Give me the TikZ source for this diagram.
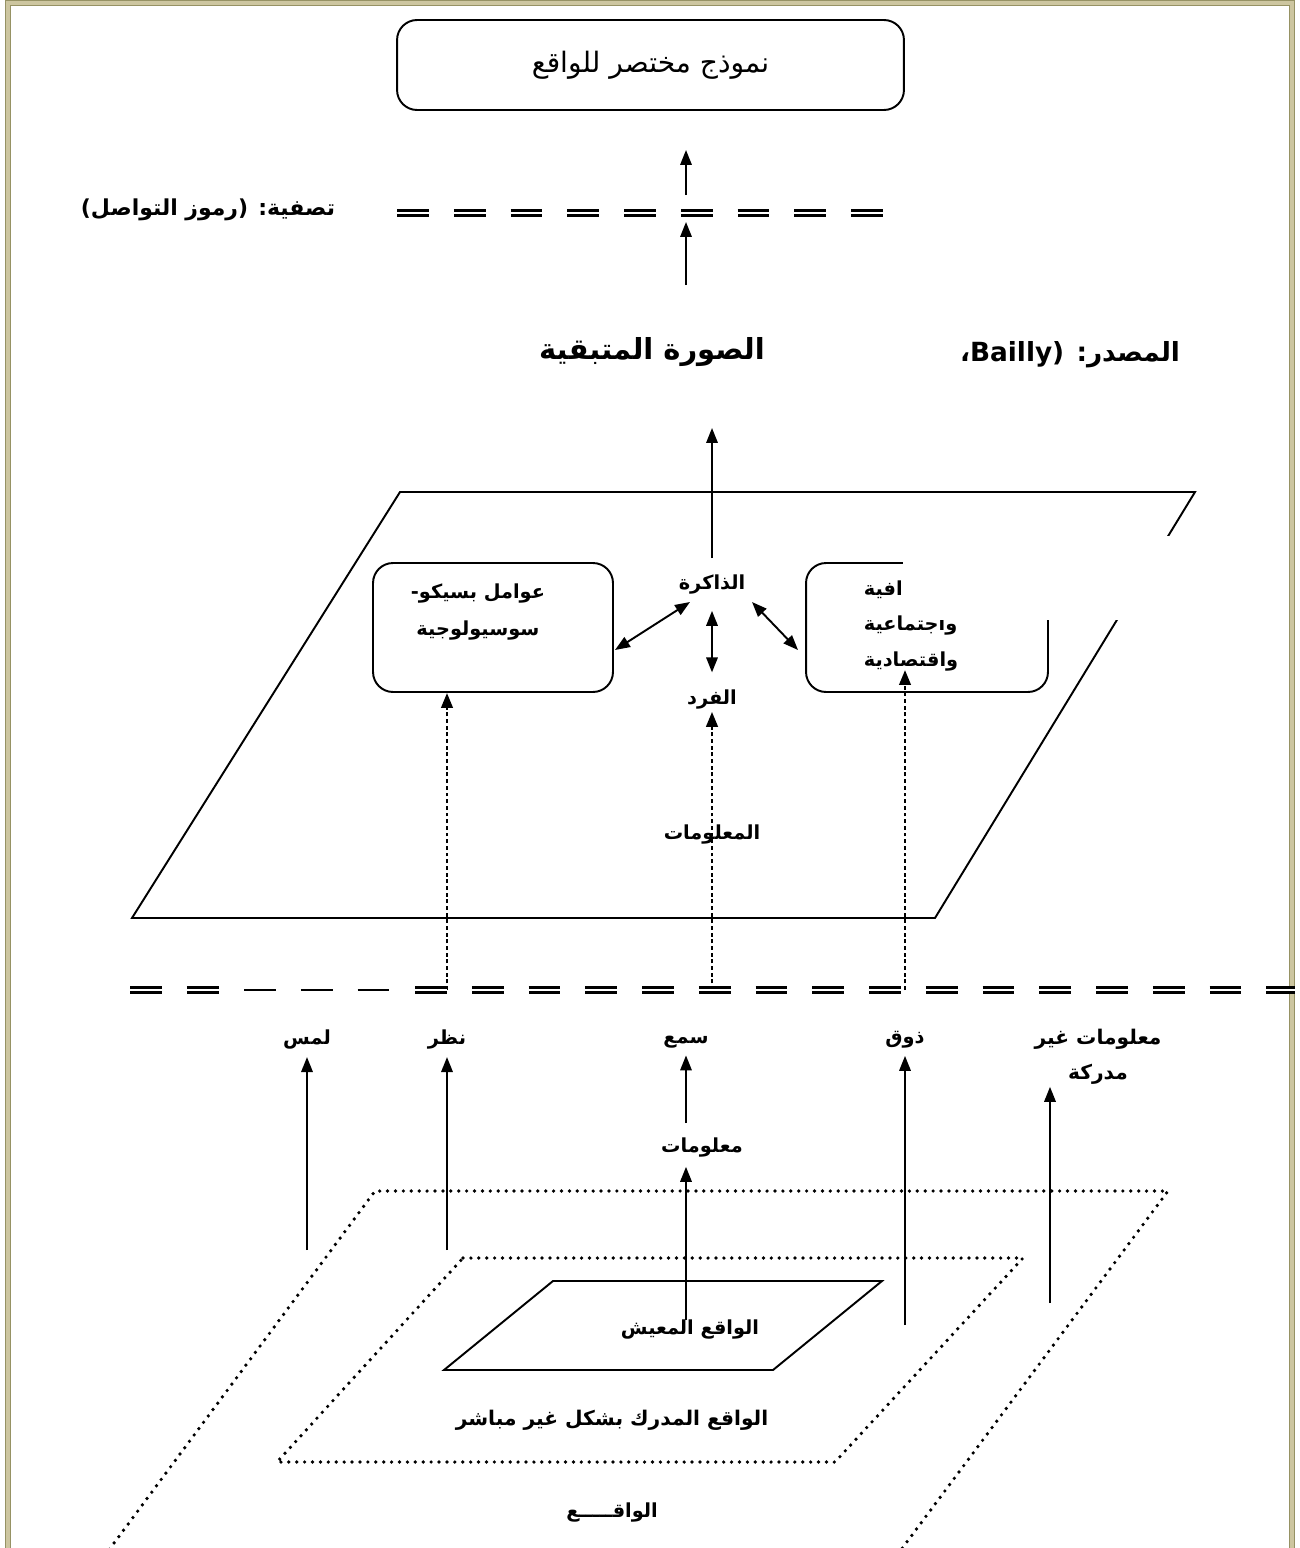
\documentclass[tikz,border=0pt]{standalone}
\usepackage{fontspec}
\newfontfamily\arabicfont[Script=Arabic]{DejaVu Sans}
\TeXXeTstate=1
\usetikzlibrary{arrows.meta,positioning}
\definecolor{frameout}{RGB}{150,146,100}
\definecolor{framein}{RGB}{205,198,160}
\newcommand{\ar}[1]{\beginR #1\endR}

\begin{document}
\begin{tikzpicture}[x=0.02cm,y=-0.02cm,
  lbl/.style={font=\arabicfont\bfseries\fontsize{11}{21}\selectfont,inner sep=1pt,align=center},
  biglbl/.style={font=\arabicfont\bfseries\fontsize{16.5}{18}\selectfont,inner sep=1pt},
  rbox/.style={draw,rounded corners=0.4cm,line width=1.1pt},
  arr/.style={-{Triangle[length=8.5pt,width=6.5pt]},line width=1.1pt},
  dblarr/.style={{Triangle[length=8.5pt,width=6.5pt]}-{Triangle[length=8.5pt,width=6.5pt]},line width=1.1pt},
  dotarr/.style={-{Triangle[length=8.5pt,width=6.5pt]},line width=1.5pt,dash pattern=on 2.2pt off 1.6pt},
  sepline/.style={double,double distance=1.6pt,line width=1.35pt,dash pattern=on 18.1pt off 14.2pt},
  halfsep/.style={line width=1.6pt,dash pattern=on 18.1pt off 14.2pt},
  dots/.style={line width=2.1pt,line cap=round,dash pattern=on 0pt off 4.5pt},
  plane/.style={line width=1.1pt}]
\useasboundingbox (0,0) rectangle (1300,1548);
% page frame
\draw[frameout,double=framein,double distance=2pt,line width=0.5pt] (8,1560) -- (8,3) -- (1292,3) -- (1292,1560);

% top: short model
\node[rbox,minimum width=10.14cm,minimum height=1.8cm,font=\arabicfont\fontsize{16}{18}\selectfont] (model) at (650.5,65) {\ar{نموذج مختصر للواقع}};
\coordinate (f1) at (686,195);
\coordinate (f1e) at (686,150);
\draw[arr] (f1) -- (f1e);

% filter
\node[lbl,font=\arabicfont\bfseries\fontsize{12.5}{14}\selectfont] (filter) at (208,210) {\ar{تصفية: (رموز التواصل)}};
\draw[sepline] (397,213) -- (885,213);
\coordinate (f2) at (686,285);
\coordinate (f2e) at (686,222);
\draw[arr] (f2) -- (f2e);

\node[biglbl] (image) at (652,352) {\ar{الصورة المتبقية}};
\node[biglbl,font=\arabicfont\bfseries\fontsize{15}{18}\selectfont] (source) at (1070,355) {\ar{المصدر: (\beginL Bailly\endL،}};
\coordinate (m0) at (712,558);
\coordinate (m1) at (712,428);
\draw[arr] (m0) -- (m1);

% perception plane
\draw[plane] (400,492) -- (1195,492) -- (935,918) -- (132,918) -- cycle;
\node[rbox,minimum width=4.8cm,minimum height=2.58cm] (psycho) at (493,627.5) {};
\node[lbl] (psychotxt) at (478,612) {\ar{عوامل بسيكو-}\\\ar{سوسيولوجية}};
\node[rbox,minimum width=4.84cm,minimum height=2.58cm] (socio) at (927,627.5) {};
\node[lbl,align=left,font=\arabicfont\bfseries\fontsize{11}{20}\selectfont] (sociotxt) at (911,626) {\ar{افية}\\\ar{واجتماعية}\\\ar{واقتصادية}};
\fill[white] (903,536) rectangle (1172,620);

\node[lbl] (memory) at (712,585) {\ar{الذاكرة}};
\node[lbl] (indiv) at (712,700) {\ar{الفرد}};
\draw[dblarr,shorten <=8pt,shorten >=9pt] (memory.south) -- (indiv.north);
\coordinate (psy-e) at (615,650);
\coordinate (mem-l) at (690,602);
\draw[dblarr] (psy-e) -- (mem-l);
\coordinate (mem-r) at (752,602);
\coordinate (soc-w) at (798,650);
\draw[dblarr] (mem-r) -- (soc-w);

\node[lbl] (info) at (712,835) {\ar{المعلومات}};
\coordinate (sight-t) at (447,990);
\coordinate (hear-t) at (712,990);
\coordinate (taste-t) at (905,990);
\coordinate (taste-e) at (905,670);
\draw[dotarr] (sight-t) -- (sight-t |- psycho.south);
\draw[dotarr] (hear-t) -- (indiv.south);
\draw[dotarr] (taste-t) -- (taste-e);

% senses threshold
\draw[sepline] (130,990) -- (242,990);
\draw[halfsep] (244,990) -- (412,990);
\draw[sepline] (415,990) -- (1295,990);

\node[lbl] (touch) at (307,1040) {\ar{لمس}};
\node[lbl] (sight) at (447,1040) {\ar{نظر}};
\node[lbl] (hear) at (686,1042) {\ar{سمع}};
\node[lbl] (taste) at (905,1040) {\ar{ذوق}};
\node[lbl,font=\arabicfont\bfseries\fontsize{11.5}{20}\selectfont] (unper) at (1098,1057) {\ar{معلومات غير}\\\ar{مدركة}};
\coordinate (touch-b) at (307,1250);
\coordinate (sight-b) at (447,1250);
\coordinate (hear-b) at (686,1123);
\coordinate (taste-b) at (905,1325);
\coordinate (unper-b) at (1050,1303);
\draw[arr,shorten >=3pt] (touch-b) -- (touch.south);
\draw[arr,shorten >=3pt] (sight-b) -- (sight.south);
\draw[arr,shorten >=3pt] (hear-b) -- (hear.south);
\draw[arr,shorten >=3pt] (taste-b) -- (taste.south);
\draw[arr] (unper-b) -- (unper-b |- unper.south);

\node[lbl] (info2) at (702,1148) {\ar{معلومات}};
\coordinate (lived-t) at (686,1320);
\draw[arr,shorten >=4pt] (lived-t) -- (lived-t |- info2.south);

% reality planes
\draw[dots] (100,1562) -- (375,1191) -- (1168,1191) -- (892,1562);
\draw[dots] (463,1258) -- (1023,1258) -- (835,1462) -- (277,1462) -- cycle;
\draw[plane] (553,1281) -- (882,1281) -- (773,1370) -- (444,1370) -- cycle;
\node[lbl] (lived) at (690,1330) {\ar{الواقع المعيش}};
\node[lbl,font=\arabicfont\bfseries\fontsize{11.5}{14}\selectfont] (indirect) at (612,1420) {\ar{الواقع المدرك بشكل غير مباشر}};
\node[lbl] (reality) at (612,1512) {\ar{الواقـــــع}};
\end{tikzpicture}
\end{document}
